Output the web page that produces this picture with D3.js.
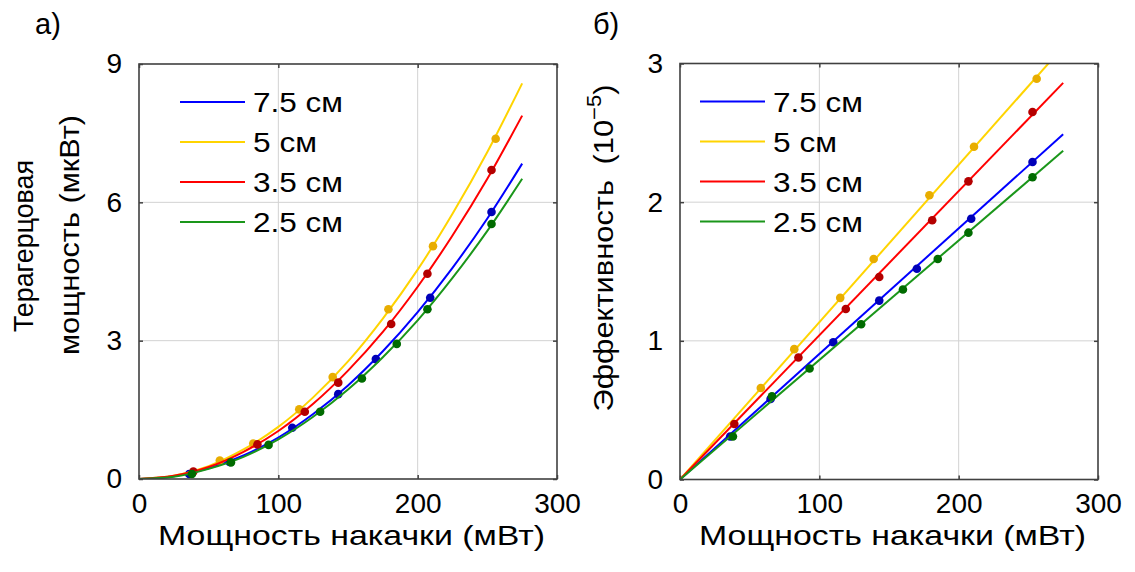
<!DOCTYPE html>
<html>
<head>
<meta charset="utf-8">
<script src="https://cdn.jsdelivr.net/npm/d3@7"></script>
<style>
  body { margin: 0; background: #fff; }
  text { font-family: "Liberation Sans", Arial, sans-serif; fill: #000; }
</style>
</head>
<body>
<svg id="chart" width="1135" height="572"></svg>
<script>
// ---- data ----
const seriesNames = ["7.5 см", "5 см", "3.5 см", "2.5 см"];
const lineColors = ["#0000ff", "#ffd400", "#ff0000", "#1a961a"];
const dotColors = ["#0000b8", "#e8ad00", "#b40000", "#006b00"];

// measured points: pump power (mW), THz power (uW), efficiency (1e-5)
const pumpBlue = [36, 65, 110, 143, 170, 209, 253];
const thzBlue = [0.11, 0.37, 1.11, 1.84, 2.6, 3.93, 5.79];
const effBlue = [0.31, 0.58, 0.99, 1.29, 1.52, 1.88, 2.29];

const pumpYellow = [58, 82, 115, 139, 179, 211, 256];
const thzYellow = [0.4, 0.77, 1.51, 2.21, 3.68, 5.05, 7.38];
const effYellow = [0.66, 0.94, 1.31, 1.59, 2.05, 2.4, 2.89];

const pumpRed = [39, 85, 119, 143, 181, 207, 253];
const thzRed = [0.16, 0.75, 1.46, 2.09, 3.36, 4.45, 6.7];
const effRed = [0.4, 0.88, 1.23, 1.46, 1.87, 2.15, 2.65];

const pumpGreen = [38, 66, 93, 130, 160, 185, 207, 253];
const thzGreen = [0.11, 0.36, 0.74, 1.46, 2.18, 2.93, 3.68, 5.53];
const effGreen = [0.31, 0.6, 0.8, 1.12, 1.37, 1.59, 1.78, 2.18];

// fitted curves
const fitPump = [0, 25, 50, 75, 100, 125, 150, 175, 200, 225, 250, 275];
const fitThzBlue = [0, 0.06, 0.23, 0.51, 0.9, 1.41, 2.03, 2.77, 3.62, 4.58, 5.65, 6.84];
const fitThzYellow = [0, 0.07, 0.28, 0.64, 1.13, 1.77, 2.55, 3.48, 4.54, 5.75, 7.09, 8.58];
const fitThzRed = [0, 0.07, 0.26, 0.59, 1.04, 1.63, 2.35, 3.19, 4.17, 5.28, 6.51, 7.88];
const fitThzGreen = [0, 0.05, 0.22, 0.48, 0.86, 1.35, 1.94, 2.64, 3.44, 4.36, 5.38, 6.51];

const fitLinePump = [0, 275];
const fitEffBlue = [0, 2.49];
const fitEffYellow = [0, 3.12];
const fitEffRed = [0, 2.86];
const fitEffGreen = [0, 2.37];

const xTicks = [0, 100, 200, 300];
const yTicksA = [0, 3, 6, 9];
const yTicksB = [0, 1, 2, 3];

// ---- build ----
const svg = d3.select("#chart");
const FONT = 28;
// widths of the longer captions as they appear in the figure
const legendWidths = [90, 64, 90, 90];

const pumps = [pumpBlue, pumpYellow, pumpRed, pumpGreen];
const thz = [thzBlue, thzYellow, thzRed, thzGreen];
const eff = [effBlue, effYellow, effRed, effGreen];
const fitThz = [fitThzBlue, fitThzYellow, fitThzRed, fitThzGreen];
const fitEff = [fitEffBlue, fitEffYellow, fitEffRed, fitEffGreen];

function panel(opts) {
  const { x0, x1, y0, y1, yMax, yTicks, id, legX } = opts;
  const x = d3.scaleLinear().domain([0, 300]).range([x0, x1]);
  const y = d3.scaleLinear().domain([0, yMax]).range([y1, y0]);
  const g = svg.append("g");

  g.append("clipPath").attr("id", id).append("rect")
    .attr("x", x0).attr("y", y0).attr("width", x1 - x0).attr("height", y1 - y0);

  // grid
  g.append("g").selectAll("line").data(xTicks.slice(1, -1)).join("line")
    .attr("x1", d => x(d)).attr("x2", d => x(d)).attr("y1", y0).attr("y2", y1)
    .attr("stroke", "#d2d2d2").attr("stroke-width", 1);
  g.append("g").selectAll("line").data(yTicks.slice(1, -1)).join("line")
    .attr("y1", d => y(d)).attr("y2", d => y(d)).attr("x1", x0).attr("x2", x1)
    .attr("stroke", "#d2d2d2").attr("stroke-width", 1);

  // axes (inner ticks, on all four sides)
  const ax = (axis, tx, ty) => g.append("g").attr("transform", `translate(${tx},${ty})`).call(axis);
  const xb = ax(d3.axisBottom(x).tickValues(xTicks).tickSize(-4).tickPadding(14).tickFormat(d3.format("d")), 0, y1);
  const yl = ax(d3.axisLeft(y).tickValues(yTicks).tickSize(-4).tickPadding(17).tickFormat(d3.format("d")), x0, 0);
  ax(d3.axisTop(x).tickValues(xTicks).tickSize(-4).tickFormat(""), 0, y0);
  ax(d3.axisRight(y).tickValues(yTicks).tickSize(-4).tickFormat(""), x1, 0);
  g.selectAll(".domain").remove();
  g.selectAll(".tick line").attr("stroke", "#404040").attr("stroke-width", 1.5);
  xb.selectAll("text").attr("font-size", 28).attr("dy", "0.71em").style("font-family", "Liberation Sans");
  yl.selectAll("text").attr("font-size", 28).style("font-family", "Liberation Sans");

  const plot = g.append("g").attr("clip-path", `url(#${id})`);
  g.append("rect").attr("x", x0).attr("y", y0).attr("width", x1 - x0).attr("height", y1 - y0)
    .attr("fill", "none").attr("stroke", "#404040").attr("stroke-width", 1.6);

  // legend
  const lg = g.append("g");
  seriesNames.forEach((name, i) => {
    const ly = y0 + 38 + i * 40;
    lg.append("line").attr("x1", x0 + legX).attr("x2", x0 + legX + 65).attr("y1", ly).attr("y2", ly)
      .attr("stroke", lineColors[i]).attr("stroke-width", 2);
    lg.append("text").attr("x", x0 + legX + 73).attr("y", ly + 10).attr("font-size", FONT)
      .attr("textLength", legendWidths[i]).attr("lengthAdjust", "spacingAndGlyphs").text(name);
  });

  return { x, y, plot };
}

const A = panel({ x0: 139, x1: 557, y0: 64, y1: 479, yMax: 9, yTicks: yTicksA, id: "clipA", legX: 41 });
const B = panel({ x0: 680, x1: 1098, y0: 63.5, y1: 479.5, yMax: 3, yTicks: yTicksB, id: "clipB", legX: 20 });

function drawSeries(P, i, fitX, fitY, px, py) {
  const line = d3.line().x(d => P.x(d[0])).y(d => P.y(d[1])).curve(d3.curveMonotoneX);
  P.plot.append("path").datum(d3.zip(fitX, fitY)).attr("d", line)
    .attr("fill", "none").attr("stroke", lineColors[i]).attr("stroke-width", 2);
  P.plot.append("g").selectAll("circle").data(d3.zip(px, py)).join("circle")
    .attr("cx", d => P.x(d[0])).attr("cy", d => P.y(d[1])).attr("r", 4.3)
    .attr("fill", dotColors[i]);
}

for (let i = 0; i < 4; i++) {
  drawSeries(A, i, fitPump, fitThz[i], pumps[i], thz[i]);
  drawSeries(B, i, fitLinePump, fitEff[i], pumps[i], eff[i]);
}

// titles and labels
svg.append("text").attr("x", 35).attr("y", 34).attr("font-size", 29).text("а)");
svg.append("text").attr("x", 593).attr("y", 34).attr("font-size", 29).text("б)");

svg.append("text").attr("x", 158).attr("y", 545).attr("font-size", FONT)
  .attr("textLength", 387).attr("lengthAdjust", "spacingAndGlyphs").text("Мощность накачки (мВт)");
svg.append("text").attr("x", 699).attr("y", 545).attr("font-size", FONT)
  .attr("textLength", 387).attr("lengthAdjust", "spacingAndGlyphs").text("Мощность накачки (мВт)");

svg.append("text").attr("transform", "translate(33,246) rotate(-90)").attr("text-anchor", "middle")
  .attr("font-size", FONT).attr("textLength", 172).attr("lengthAdjust", "spacingAndGlyphs")
  .text("Терагерцовая");
svg.append("text").attr("transform", "translate(79,235) rotate(-90)").attr("text-anchor", "middle")
  .attr("font-size", FONT).attr("textLength", 240).attr("lengthAdjust", "spacingAndGlyphs")
  .text("мощность (мкВт)");

const effLabel = svg.append("text").attr("transform", "translate(613,248) rotate(-90)")
  .attr("text-anchor", "middle").attr("font-size", FONT)
  .attr("textLength", 327).attr("lengthAdjust", "spacingAndGlyphs");
effLabel.append("tspan").text("Эффективность");
effLabel.append("tspan").attr("dx", 14).text("(10");
effLabel.append("tspan").attr("font-size", 20).attr("dy", -12).text("−5");
effLabel.append("tspan").attr("dy", 12).text(")");
</script>
</body>
</html>
